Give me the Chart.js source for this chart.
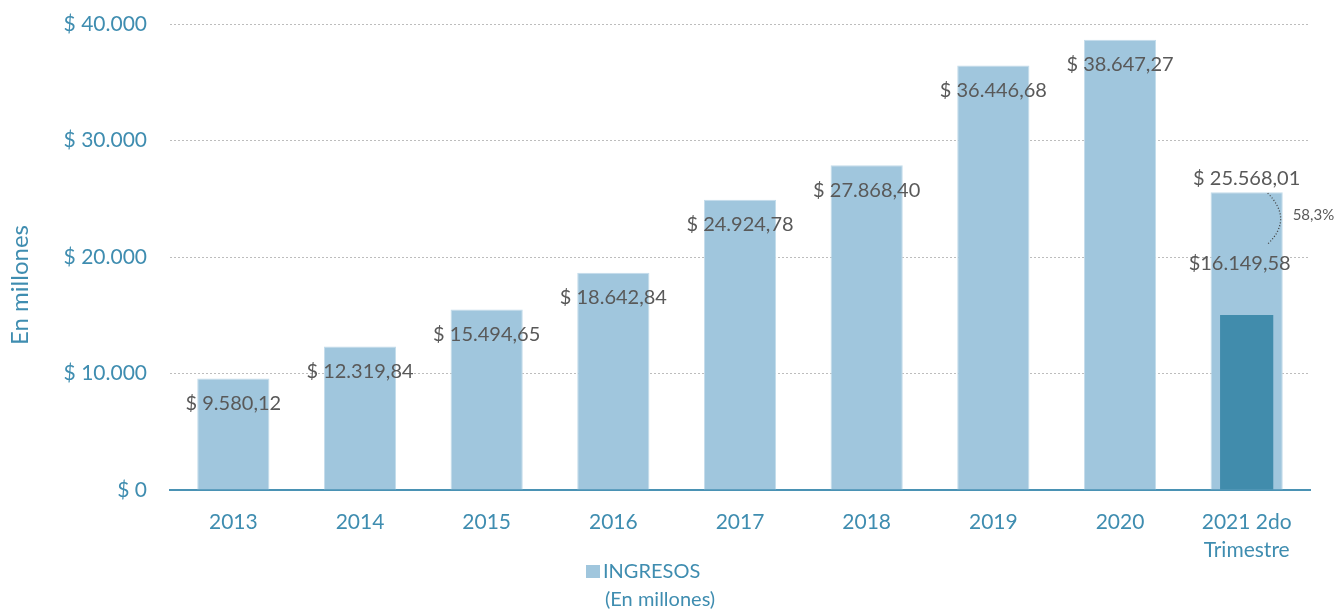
<!DOCTYPE html>
<html>
<head>
<meta charset="utf-8">
<script src="https://cdn.jsdelivr.net/npm/chart.js"></script>
<style>
  body { margin: 0; background: #fff; }
  #caja { width: 1341px; height: 610px; }
</style>
</head>
<body>
<div id="caja"><canvas id="grafico"></canvas></div>
<script>
// datos
const categorias = ['2013', '2014', '2015', '2016', '2017', '2018', '2019', '2020', ['2021 2do', 'Trimestre']];
const ingresos = [9580.12, 12319.84, 15494.65, 18642.84, 24924.78, 27868.40, 36446.68, 38647.27, 25568.01];
const ingresosParcial = [null, null, null, null, null, null, null, null, 15020];
const etiquetaParcial = '$16.149,58';
const porcentaje = '58,3%';
const leyenda = ['INGRESOS', '(En millones)'];
const tituloY = 'En millones';
const ticksY = [0, 10000, 20000, 30000, 40000];

const azulClaro = '#A0C6DD';
const azulOscuro = '#418CAC';
const turquesa = '#3F8DB0';
const gris = '#595959';
const fuente = 'Lato, "Open Sans", sans-serif';

function miles(n) {
    return String(n).replace(/\B(?=(\d{3})+(?!\d))/g, '.');
}

function formato(v) {
    const partes = v.toFixed(2).split('.');
    return '$ ' + miles(partes[0]) + ',' + partes[1];
}

//---------------------- etiquetas, curva y leyenda ----------------------//
const extras = {
    id: 'extras',
    afterDatasetsDraw(chart) {
        const ctx = chart.ctx;
        const claras = chart.getDatasetMeta(0).data;
        const oscuras = chart.getDatasetMeta(1).data;

        ctx.save();
        ctx.font = '20px ' + fuente;
        ctx.fillStyle = gris;
        ctx.textAlign = 'center';
        ctx.textBaseline = 'middle';
        claras.forEach((barra, i) => {
            const dy = i === claras.length - 1 ? -14 : 25;
            ctx.fillText(formato(ingresos[i]), barra.x, barra.y + dy);
        });

        // etiqueta del trimestre
        const oscura = oscuras[oscuras.length - 1];
        ctx.fillText(etiquetaParcial, oscura.x - 7, oscura.y - 51);

        // curva punteada con el porcentaje
        const ultima = claras[claras.length - 1];
        const x0 = ultima.x + 21;
        const y0 = ultima.y + 1;
        ctx.beginPath();
        ctx.setLineDash([1, 2]);
        ctx.lineWidth = 1.3;
        ctx.strokeStyle = '#404040';
        ctx.moveTo(x0, y0);
        ctx.quadraticCurveTo(x0 + 26, y0 + 26, x0, y0 + 51);
        ctx.stroke();
        ctx.setLineDash([]);

        ctx.font = '15px ' + fuente;
        ctx.textAlign = 'left';
        ctx.fillText(porcentaje, ultima.x + 46, ultima.y + 23);

        // titulo del eje y
        ctx.save();
        ctx.translate(20, 285);
        ctx.rotate(-Math.PI / 2);
        ctx.font = '24px ' + fuente;
        ctx.fillStyle = turquesa;
        ctx.textAlign = 'center';
        ctx.fillText(tituloY, 0, 0);
        ctx.restore();

        // leyenda
        ctx.fillStyle = azulClaro;
        ctx.fillRect(586, 565, 14, 13);
        ctx.font = '20px ' + fuente;
        ctx.fillStyle = turquesa;
        ctx.textAlign = 'left';
        ctx.fillText(leyenda[0], 603, 572);
        ctx.fillText(leyenda[1], 605, 600);
        ctx.restore();
    }
};

const grafico = new Chart(document.getElementById('grafico'), {
    type: 'bar',
    data: {
        labels: categorias,
        datasets: [{
            label: leyenda[0],
            data: ingresos,
            backgroundColor: azulClaro,
            borderColor: '#C3DCEA',
            borderWidth: { left: 1, right: 1, top: 1, bottom: 0 },
            barPercentage: 0.57,
            categoryPercentage: 1,
            grouped: false,
            order: 1
        }, {
            label: 'Parcial',
            data: ingresosParcial,
            backgroundColor: azulOscuro,
            barPercentage: 0.42,
            categoryPercentage: 1,
            grouped: false,
            order: 0
        }]
    },
    options: {
        responsive: true,
        maintainAspectRatio: false,
        animation: false,
        layout: { padding: { top: 24, right: 31, left: 0, bottom: 0 } },
        plugins: {
            legend: { display: false },
            tooltip: { enabled: false }
        },
        scales: {
            x: {
                grid: { display: false, drawTicks: false },
                border: { color: '#4A92B4', width: 2 },
                ticks: {
                    color: turquesa,
                    font: { family: fuente, size: 21, lineHeight: 1.33 },
                    padding: 18,
                    maxRotation: 0,
                    autoSkip: false
                },
                afterFit(escala) { escala.height = 120; }
            },
            y: {
                min: 0,
                max: 40000,
                afterBuildTicks(escala) { escala.ticks = ticksY.map(v => ({ value: v })); },
                grid: {
                    color: ctx => ctx.tick.value === 0 ? 'rgba(0,0,0,0)' : '#BDBDBD',
                    lineWidth: 1,
                    drawTicks: false
                },
                border: { display: false, dash: [2, 2] },
                ticks: {
                    color: turquesa,
                    font: { family: fuente, size: 21 },
                    padding: 23,
                    callback: v => '$ ' + miles(v)
                },
                afterFit(escala) {
                    escala.width = 170;
                    escala.paddingTop = 0;
                    escala.paddingBottom = 0;
                }
            }
        }
    },
    plugins: [extras]
});
</script>
</body>
</html>
